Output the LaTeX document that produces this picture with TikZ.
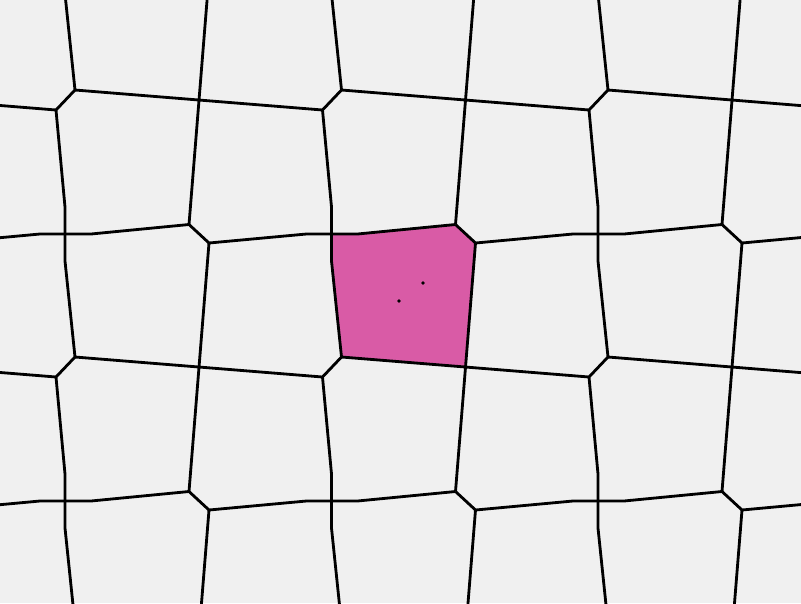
\documentclass[tikz,border=0pt]{standalone}
\usepackage{xcolor}
\usepackage{tikz}
\usetikzlibrary{calc}
\definecolor{bgpaper}{RGB}{240,240,240}
\definecolor{cellpink}{RGB}{217,91,166}

\begin{document}
\begin{tikzpicture}[
    x=0.02cm,
    y=-0.02cm,
    edge/.style={
        draw=black,
        line width=1.6pt,
        line join=round
    },
    hilite/.style={
        fill=cellpink
    },
    site/.style={
        fill=black
    }
]

% paper
\fill[bgpaper] (0,0) rectangle (801,603);
\useasboundingbox (0,0) rectangle (801,603);
\clip (0,0) rectangle (801,603);

% highlighted cell
\coordinate (p1) at (332,234);
\coordinate (p2) at (358,234);
\coordinate (p3) at (455.5,224.5);
\coordinate (p4) at (475.5,243);
\coordinate (p5) at (465.5,367);
\coordinate (p6) at (341.5,357);
\coordinate (p7) at (332,261);
\fill[hilite] (p1) -- (p2) -- (p3) -- (p4) -- (p5) -- (p6) -- (p7) -- cycle;

% cell edges, one period at a time
\foreach \i in {-1,...,3}
  \foreach \j in {-1,...,2} {
    \begin{scope}[shift={(266.5*\i,267*\j)}]
      \draw[edge] (75,90) -- (56,110);
      \draw[edge] (189,224.5) -- (209,243);
      \draw[edge] (75,90) -- (322.5,110);
      \draw[edge] (209,-24) -- (189,224.5);
      \draw[edge] (-57.5,243) -- (40,234) -- (91,234) -- (189,224.5);
      \draw[edge] (56,110) -- (65,207) -- (65,261) -- (75,357);
    \end{scope}
  }

% sites
\fill[site] (423,283) circle (1.8);
\fill[site] (399,301) circle (1.8);

\end{tikzpicture}
\end{document}
